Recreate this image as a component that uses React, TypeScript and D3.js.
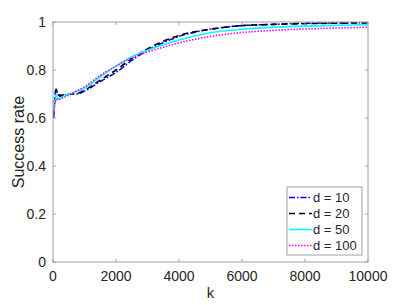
import React from "react";
import * as d3 from "d3";

const kValues = [20, 100, 150, 250, 500, 750, 1000, 1500, 2000, 2500, 3000, 3500, 4000, 5000, 6000, 7000, 8000, 9000, 10000];
const d10 = [0.6, 0.72, 0.7, 0.69, 0.7, 0.7, 0.712, 0.752, 0.79, 0.84, 0.882, 0.914, 0.94, 0.97, 0.985, 0.99, 0.995, 0.996, 0.997];
const d20 = [0.62, 0.72, 0.7, 0.695, 0.7, 0.702, 0.716, 0.758, 0.8, 0.848, 0.888, 0.92, 0.944, 0.97, 0.985, 0.99, 0.993, 0.995, 0.996];
const d50 = [0.63, 0.7, 0.68, 0.685, 0.7, 0.71, 0.725, 0.772, 0.816, 0.855, 0.882, 0.905, 0.925, 0.955, 0.97, 0.978, 0.983, 0.986, 0.989];
const d100 = [0.62, 0.68, 0.675, 0.68, 0.695, 0.713, 0.73, 0.778, 0.816, 0.85, 0.875, 0.895, 0.913, 0.94, 0.956, 0.965, 0.971, 0.975, 0.978];
const seriesNames = ["d = 10", "d = 20", "d = 50", "d = 100"];
const xTicks = [0, 2000, 4000, 6000, 8000, 10000];
const yTicks = [0, 0.2, 0.4, 0.6, 0.8, 1];

const styles = [
  { color: "#0000ff", dash: "6,2,1.5,2" },
  { color: "#000000", dash: "6,4" },
  { color: "#00ffff", dash: "none" },
  { color: "#ff00ff", dash: "1.5,1.5" },
];

const width = 407;
const height = 305;
const margin = { left: 53, right: 39, top: 22, bottom: 43 };
const axisColor = "#a0a0a0";
const textColor = "#262626";
const font = "Liberation Sans, Arial, Helvetica, sans-serif";

export default function App() {
  const x = d3.scaleLinear().domain([0, 10000]).range([margin.left, width - margin.right]);
  const y = d3.scaleLinear().domain([0, 1]).range([height - margin.bottom, margin.top]);
  const line = d3
    .line<number>()
    .x((_d, i) => x(kValues[i]))
    .y((d) => y(d))
    .curve(d3.curveMonotoneX);
  const series = [d10, d20, d50, d100];
  const [x0, x1] = x.range();
  const [y0, y1] = y.range();
  const tick = 3;

  const legX = 287;
  const legY = 187;
  const legW = 75;
  const legH = 68;
  const rowH = 16;

  return (
    <svg
      width={width}
      height={height}
      style={{ position: "absolute", left: 0, top: 0, background: "#fff" }}
      fontFamily={font}
    >
      <rect x={0} y={0} width={width} height={height} fill="#fff" />
      <g>
        {series.map((s, i) => (
          <path
            key={i}
            d={line(s) || ""}
            fill="none"
            stroke={styles[i].color}
            strokeWidth={1.6}
            strokeDasharray={styles[i].dash}
          />
        ))}
      </g>
      {/* box */}
      <rect x={x0} y={y1} width={x1 - x0} height={y0 - y1} fill="none" stroke={axisColor} strokeWidth={1} />
      {xTicks.map((t) => (
        <g key={"x" + t}>
          <line x1={x(t)} x2={x(t)} y1={y0} y2={y0 - tick} stroke={axisColor} />
          <line x1={x(t)} x2={x(t)} y1={y1} y2={y1 + tick} stroke={axisColor} />
          <text x={x(t)} y={y0 + 19} textAnchor="middle" fontSize={14} fill={textColor}>
            {t}
          </text>
        </g>
      ))}
      {yTicks.map((t) => (
        <g key={"y" + t}>
          <line x1={x0} x2={x0 + tick} y1={y(t)} y2={y(t)} stroke={axisColor} />
          <line x1={x1} x2={x1 - tick} y1={y(t)} y2={y(t)} stroke={axisColor} />
          <text x={x0 - 7} y={y(t)} dy="0.35em" textAnchor="end" fontSize={14} fill={textColor}>
            {t}
          </text>
        </g>
      ))}
      <text x={(x0 + x1) / 2} y={298} textAnchor="middle" fontSize={15} fill={textColor}>
        k
      </text>
      <text
        transform={`translate(24, ${(y0 + y1) / 2}) rotate(-90)`}
        textAnchor="middle"
        fontSize={16}
        fill={textColor}
      >
        Success rate
      </text>
      {/* legend */}
      <rect x={legX} y={legY} width={legW} height={legH} fill="#fff" stroke={axisColor} strokeWidth={1} />
      {seriesNames.map((name, i) => {
        const cy = legY + 10.5 + i * rowH;
        return (
          <g key={name}>
            <line
              x1={legX + 2}
              x2={legX + 25}
              y1={cy}
              y2={cy}
              stroke={styles[i].color}
              strokeWidth={1.6}
              strokeDasharray={styles[i].dash}
            />
            <text x={legX + 26} y={cy} dy="0.35em" fontSize={13} fill={textColor}>
              {name}
            </text>
          </g>
        );
      })}
    </svg>
  );
}
